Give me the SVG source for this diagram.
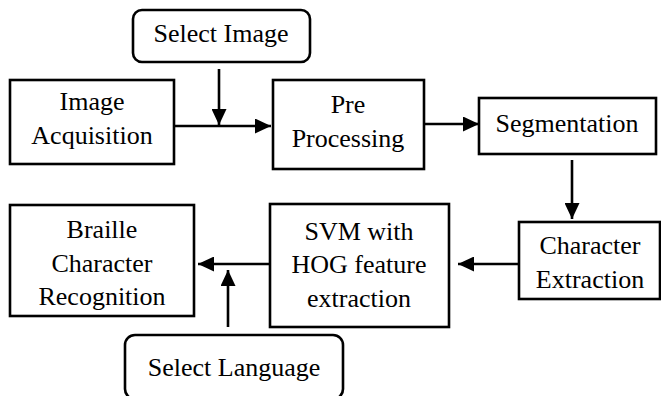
<svg xmlns="http://www.w3.org/2000/svg" width="661" height="396" viewBox="0 0 661 396">
<style>
.box{fill:#fff;stroke:#000;stroke-width:2.6}
.t{font-family:'Liberation Serif','Times New Roman','DejaVu Serif',serif;font-size:26px;fill:#000;text-anchor:middle}
.c{stroke:#000;stroke-width:2.6;fill:none}
</style>
<defs>
<marker id="ah" viewBox="0 0 16 15" refX="16" refY="7.5" markerWidth="16" markerHeight="15" markerUnits="userSpaceOnUse" orient="auto">
<path d="M0,0 L16,7.5 L0,15 Z" fill="#000"/>
</marker>
</defs>
<rect width="661" height="396" fill="#fff"/>
<g id="connectors">
<line class="c" x1="174" y1="126" x2="271" y2="126" marker-end="url(#ah)"/>
<line class="c" x1="219" y1="69" x2="219" y2="125" marker-end="url(#ah)"/>
<line class="c" x1="424" y1="124" x2="479" y2="124" marker-end="url(#ah)"/>
<line class="c" x1="572" y1="160" x2="572" y2="219" marker-end="url(#ah)"/>
<line class="c" x1="519" y1="264" x2="458" y2="264" marker-end="url(#ah)"/>
<line class="c" x1="270" y1="264" x2="198" y2="264" marker-end="url(#ah)"/>
<line class="c" x1="228" y1="327" x2="228" y2="270" marker-end="url(#ah)"/>
</g>
<g id="select-image">
<rect class="box" x="133" y="10" width="177" height="52" rx="9"/>
<text class="t" x="221" y="42">Select Image</text>
</g>
<g id="image-acquisition">
<rect class="box" x="10" y="80" width="164" height="84"/>
<text class="t" x="92" y="110">Image</text>
<text class="t" x="92" y="144">Acquisition</text>
</g>
<g id="pre-processing">
<rect class="box" x="273" y="80" width="151" height="89"/>
<text class="t" x="348" y="113">Pre</text>
<text class="t" x="348" y="147">Processing</text>
</g>
<g id="segmentation">
<rect class="box" x="479" y="98" width="177" height="56"/>
<text class="t" x="567" y="132">Segmentation</text>
</g>
<g id="character-extraction">
<rect class="box" x="519" y="222" width="141" height="77"/>
<text class="t" x="590" y="254">Character</text>
<text class="t" x="590" y="288">Extraction</text>
</g>
<g id="svm-hog">
<rect class="box" x="270" y="204" width="179" height="123"/>
<text class="t" x="359" y="240">SVM with</text>
<text class="t" x="359" y="273">HOG feature</text>
<text class="t" x="359" y="307">extraction</text>
</g>
<g id="braille-recognition">
<rect class="box" x="10" y="205" width="184" height="111"/>
<text class="t" x="102" y="238">Braille</text>
<text class="t" x="102" y="272">Character</text>
<text class="t" x="102" y="305">Recognition</text>
</g>
<g id="select-language">
<rect class="box" x="125" y="335" width="218" height="64" rx="10"/>
<text class="t" x="234" y="376">Select Language</text>
</g>
</svg>
